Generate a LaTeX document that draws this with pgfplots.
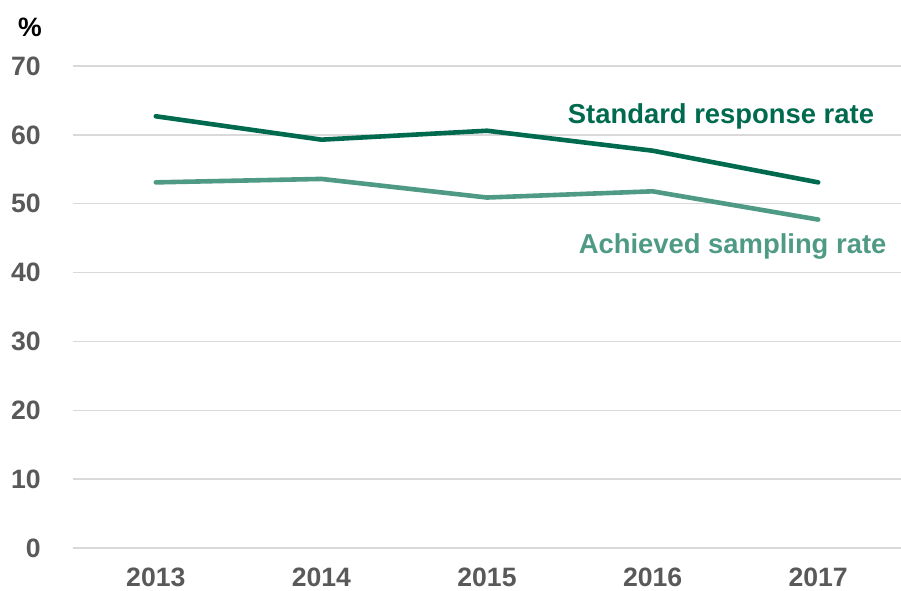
\documentclass[border=0pt]{standalone}
\usepackage{pgfplots}
\pgfplotsset{compat=1.18}
\usepackage{fontspec}
\setmainfont{Liberation Sans}
\definecolor{dgreen}{HTML}{006A4E}
\definecolor{lgreen}{HTML}{4F9A85}
\definecolor{tickgray}{HTML}{595959}
\definecolor{gridgray}{HTML}{D9D9D9}
\begin{document}
\begin{tikzpicture}
\begin{axis}[name=ax, scale only axis, width=414pt, height=241pt,
 xmin=-0.5, xmax=4.5, ymin=0, ymax=70,
 xtick={0,...,4}, xticklabels={2013,2014,2015,2016,2017},
 ytick={0,10,...,70},
 ymajorgrids, grid style={gridgray, line width=0.75pt},
 axis line style={draw=none},
 tick style={draw=none},
 /pgf/number format/assume math mode=true,
 ticklabel style={font=\fontsize{13.3}{16}\selectfont\bfseries, text=tickgray, inner sep=0pt},
 yticklabel style={anchor=east, xshift=-16pt},
 xticklabel style={anchor=north, yshift=-10pt},
 clip=false]
\addplot[dgreen, line width=2.3pt, line cap=round, line join=round] coordinates {(0,62.7)(1,59.3)(2,60.6)(3,57.7)(4,53.1)};
\addplot[lgreen, line width=2.3pt, line cap=round, line join=round] coordinates {(0,53.1)(1,53.6)(2,50.9)(3,51.8)(4,47.7)};
\node[anchor=base, text=dgreen, font=\fontsize{13.7}{16}\selectfont\bfseries] at (axis cs:3.413,61.6) {Standard response rate};
\node[anchor=base, text=lgreen, font=\fontsize{13.7}{16}\selectfont\bfseries] at (axis cs:3.483,42.8) {Achieved sampling rate};
\node[anchor=center, font=\fontsize{13.3}{16}\selectfont\bfseries, inner sep=0pt] at ([shift={(-21.5pt,19.5pt)}]rel axis cs:0,1) {\%};
\end{axis}
\path (ax.south west) ++(-36.5pt,-21pt) coordinate (bl);
\path (ax.north east) ++(0pt,33pt) coordinate (tr);
\pgfresetboundingbox
\path[use as bounding box] (bl) rectangle (tr);
\end{tikzpicture}
\end{document}
